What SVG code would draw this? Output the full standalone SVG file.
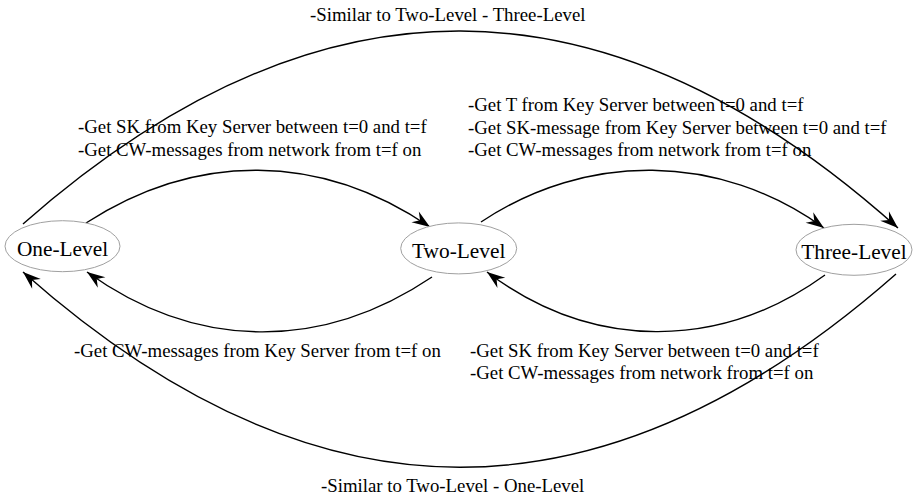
<svg xmlns="http://www.w3.org/2000/svg" width="914" height="499" viewBox="0 0 914 499">
<style>
.node ellipse{fill:#fff;stroke:#a0a0a0;stroke-width:1}
.node text{font-family:"Liberation Serif","Times New Roman",serif;font-size:21.33px;fill:#000;text-anchor:middle}
.edge path{fill:none;stroke:#000;stroke-width:1.4;marker-end:url(#arr)}
.lbl{font-family:"Liberation Serif","Times New Roman",serif;font-size:18.8px;fill:#000}
</style>
<defs>
<marker id="arr" markerUnits="userSpaceOnUse" viewBox="-19 -8 20 16" refX="0" refY="0" markerWidth="20" markerHeight="16" orient="auto">
<path d="M0,0 L-18,-6.5 L-12,0 L-18,6.5 Z" fill="#000"/>
</marker>
</defs>
<g id="edges" class="edge">
<path d="M86,223 C196,152 320,152 430,227"/>
<path d="M432,277 C322,351 197,351 87,272"/>
<path d="M481,222 C586,152 719,152 824,228"/>
<path d="M825,275 C720,351 592,351 487,272"/>
<path d="M23,224 C316,-34 605,-34 898,228"/>
<path d="M896,274 C603,532 316,532 23,272"/>
</g>
<g id="labels" class="lbl">
<text x="310" y="20.7">-Similar to Two-Level - Three-Level</text>
<text x="78" y="133">-Get SK from Key Server between t=0 and t=f</text>
<text x="78" y="155.5">-Get CW-messages from network from t=f on</text>
<text x="468" y="111">-Get T from Key Server between t=0 and t=f</text>
<text x="468" y="133.5">-Get SK-message from Key Server between t=0 and t=f</text>
<text x="468" y="156">-Get CW-messages from network from t=f on</text>
<text x="74" y="356.5">-Get CW-messages from Key Server from t=f on</text>
<text x="470" y="356.5">-Get SK from Key Server between t=0 and t=f</text>
<text x="470" y="379">-Get CW-messages from network from t=f on</text>
<text x="321" y="491.5">-Similar to Two-Level - One-Level</text>
</g>
<g id="one-level" class="node">
<ellipse cx="62.5" cy="246.2" rx="57.5" ry="25.5"/>
<text x="62.5" y="256">One-Level</text>
</g>
<g id="two-level" class="node">
<ellipse cx="458.7" cy="248.4" rx="58" ry="25.5"/>
<text x="458.7" y="258">Two-Level</text>
</g>
<g id="three-level" class="node">
<ellipse cx="854" cy="249.8" rx="58" ry="25.5"/>
<text x="854" y="259">Three-Level</text>
</g>
</svg>
